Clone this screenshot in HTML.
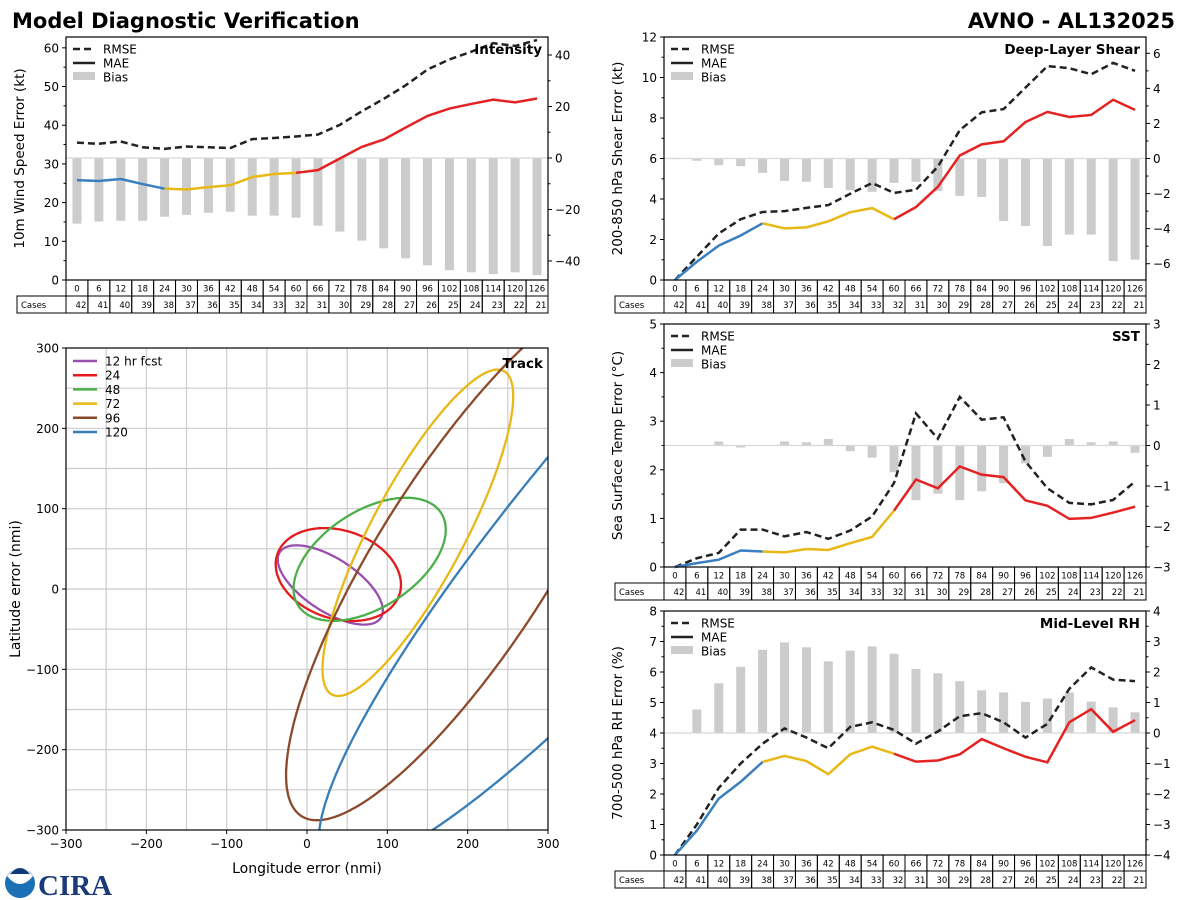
<!DOCTYPE html>
<html><head><meta charset="utf-8"><style>
html,body{margin:0;padding:0;background:#fff;}
svg{display:block;font-family:"DejaVu Sans","Liberation Sans",sans-serif;}
</style></head><body>
<svg id="root" width="1200" height="900" viewBox="0 0 1200 900" xmlns="http://www.w3.org/2000/svg">
<text x="12" y="28" font-size="21" font-weight="bold">Model Diagnostic Verification</text>
<text x="1175" y="28" font-size="21" font-weight="bold" text-anchor="end">AVNO - AL132025</text>
<g>
<circle cx="20" cy="883" r="15" fill="#1a6fb5"/>
<path d="M7,876 Q20,892 33,876 Q28,868 20,868 Q12,868 7,876Z" fill="#fff"/>
<path d="M10,874 Q20,862 30,874Z" fill="#123a7a"/>
<text x="38" y="895" font-family="Liberation Serif,serif" font-weight="bold" font-size="29" fill="#1b3a7a">CIRA</text>
</g>
<g id="charts"></g>
</svg>
<script>
const hours=[0,6,12,18,24,30,36,42,48,54,60,66,72,78,84,90,96,102,108,114,120,126];
const cases=[42,41,40,39,38,37,36,35,34,33,32,31,30,29,28,27,26,25,24,23,22,21];
const intRmse=[35.5,35.2,35.8,34.3,33.9,34.5,34.3,34.1,36.4,36.7,37.1,37.6,40.1,43.6,46.8,50.3,54.4,57.0,59.0,61.2,60.5,62.0];
const intMae=[25.8,25.6,26.1,24.8,23.6,23.4,24.0,24.5,26.6,27.4,27.7,28.4,31.4,34.4,36.3,39.4,42.4,44.3,45.5,46.6,45.9,46.9];
const intBias=[-25.5,-24.7,-24.4,-24.4,-22.8,-22.1,-21.3,-20.9,-22.4,-22.4,-23.2,-26.3,-28.6,-32.1,-35.1,-39.0,-41.7,-43.6,-44.4,-45.1,-44.4,-45.5];
const shrRmse=[0,1.15,2.3,3.0,3.36,3.4,3.56,3.7,4.26,4.79,4.3,4.46,5.6,7.4,8.28,8.44,9.5,10.56,10.46,10.16,10.72,10.33];
const shrMae=[0,0.9,1.7,2.2,2.8,2.55,2.6,2.9,3.35,3.55,3.0,3.6,4.6,6.15,6.7,6.85,7.8,8.3,8.05,8.15,8.9,8.4];
const shrBias=[0,-0.13,-0.38,-0.44,-0.82,-1.28,-1.33,-1.68,-1.81,-1.9,-1.39,-1.33,-1.85,-2.13,-2.19,-3.56,-3.85,-4.99,-4.34,-4.34,-5.85,-5.77];
const sstRmse=[0,0.18,0.29,0.77,0.77,0.63,0.72,0.58,0.75,1.04,1.73,3.16,2.64,3.5,3.03,3.08,2.17,1.62,1.32,1.29,1.38,1.76];
const sstMae=[0,0.08,0.15,0.34,0.32,0.3,0.37,0.35,0.49,0.62,1.16,1.8,1.62,2.07,1.9,1.85,1.37,1.26,0.99,1.01,1.12,1.24];
const sstBias=[0.01,0.01,0.1,-0.05,0.01,0.1,0.08,0.16,-0.14,-0.3,-0.66,-1.35,-1.19,-1.35,-1.13,-0.93,-0.44,-0.28,0.16,0.08,0.1,-0.18];
const rhRmse=[0,1.0,2.2,3.0,3.65,4.15,3.85,3.5,4.2,4.35,4.1,3.65,4.05,4.55,4.65,4.35,3.85,4.3,5.45,6.15,5.75,5.7];
const rhMae=[0,0.8,1.85,2.4,3.05,3.25,3.08,2.65,3.3,3.55,3.32,3.06,3.1,3.3,3.8,3.5,3.22,3.04,4.35,4.78,4.04,4.42];
const rhBias=[0.02,0.77,1.63,2.17,2.73,2.97,2.81,2.35,2.7,2.84,2.6,2.1,1.96,1.7,1.4,1.33,1.02,1.13,1.33,1.03,0.84,0.68];
// track ellipses in nmi: center, semi-major, semi-minor, angle deg
const trkLabels=["12 hr fcst","24","48","72","96","120"];
const trkCx=[29,39,78,138,200,445];
const trkCy=[5,18,37,70,42,142];
const trkA=[75,80,106,228,385,640];
const trkB=[33,55,60,58,108,125];
const trkAng=[-33,-18,33,62,57.5,49];
const trkColors=["#9a4ead","#e41a1c","#4daf4a","#e8b816","#8b4a2b","#377eb8"];

const NS="http://www.w3.org/2000/svg";
const root=document.getElementById('charts');
function mk(tag,attrs,parent){const e=document.createElementNS(NS,tag);for(const k in attrs)e.setAttribute(k,attrs[k]);(parent||root).appendChild(e);return e;}
function txt(x,y,s,size,anchor,parent,extra){const t=mk('text',Object.assign({x:x,y:y,'font-size':size,'text-anchor':anchor||'start'},extra||{}),parent);t.textContent=s;return t;}

function linePanel(id,box,title,ylabel,lMin,lMax,lTicks,lMinor,rMin,rMax,rTicks,rMinor,rmse,mae,bias){
  const g=mk('g',{});
  
  
  const n=hours.length, cw=box.w/n;
  const xs=i=>box.x+cw*(i+0.5);
  const yl=v=>box.y+box.h-(v-lMin)/(lMax-lMin)*box.h;
  const yr=v=>box.y+box.h-(v-rMin)/(rMax-rMin)*box.h;
  const bg=mk('g',{},g);
  
  
  bias.forEach((b,i)=>{const y0=yr(0),y1=yr(b);
    const r=mk('rect',{x:xs(i)-4.5,y:Math.min(y0,y1),width:9,height:Math.max(Math.abs(y1-y0),0.6),fill:'#cccccc'},bg);
    
    });
  const zl=mk('line',{x1:box.x,x2:box.x+box.w,y1:yr(0),y2:yr(0),stroke:'#d8d8d8','stroke-width':1.2},g);
  
  
  const rp=mk('polyline',{points:rmse.map((v,i)=>xs(i)+','+yl(v)).join(' '),fill:'none',stroke:'#222','stroke-width':2.5,'stroke-dasharray':'7,4'},g);
  
  
  const segs=[[0,4,'#3a7fbf'],[4,10,'#e8b816'],[10,n-1,'#e52222']];
  segs.forEach(s=>{const pts=[];for(let i=s[0];i<=s[1];i++)pts.push(xs(i)+','+yl(mae[i]));
    const p=mk('polyline',{points:pts.join(' '),fill:'none',stroke:s[2],'stroke-width':2.5},g);
    
    });
  mk('rect',{x:box.x,y:box.y,width:box.w,height:box.h,fill:'none',stroke:'#000','stroke-width':1.2},g);
  lTicks.forEach(v=>{mk('line',{x1:box.x-4,x2:box.x,y1:yl(v),y2:yl(v),stroke:'#000'},g);txt(box.x-7,yl(v)+4.5,String(v),12,'end',g);});
  lMinor.forEach(v=>mk('line',{x1:box.x-2.5,x2:box.x,y1:yl(v),y2:yl(v),stroke:'#000'},g));
  rTicks.forEach(v=>{mk('line',{x1:box.x+box.w,x2:box.x+box.w+4,y1:yr(v),y2:yr(v),stroke:'#000'},g);txt(box.x+box.w+7,yr(v)+4.5,String(v).replace('-','\u2212'),12,'start',g);});
  rMinor.forEach(v=>mk('line',{x1:box.x+box.w,x2:box.x+box.w+2.5,y1:yr(v),y2:yr(v),stroke:'#000'},g));
  const yt=txt(0,0,ylabel,13.5,'middle',g,{transform:`translate(${box.x-42},${box.y+box.h/2}) rotate(-90)`});
  
  
  const tt=txt(box.x+box.w-6,box.y+17,title,13.5,'end',g,{'font-weight':'bold'});
  
  
  const lg=mk('g',{},g);
  
  
  const lx=box.x+7,ly=box.y+12;
  mk('line',{x1:lx,x2:lx+22,y1:ly,y2:ly,stroke:'#222','stroke-width':2.5,'stroke-dasharray':'7,4'},lg);
  txt(lx+30,ly+4.5,'RMSE',12,'start',lg);
  mk('line',{x1:lx,x2:lx+22,y1:ly+14,y2:ly+14,stroke:'#222','stroke-width':2.5},lg);
  txt(lx+30,ly+18.5,'MAE',12,'start',lg);
  mk('rect',{x:lx,y:ly+23,width:22,height:8,fill:'#cccccc'},lg);
  txt(lx+30,ly+32.5,'Bias',12,'start',lg);
  const tb=mk('g',{},g);
  
  
  const ty=box.y+box.h;
  mk('rect',{x:box.x-49,y:ty+16,width:49,height:17,fill:'none',stroke:'#000'},tb);
  txt(box.x-45,ty+28,'Cases',8.5,'start',tb);
  hours.forEach((h,i)=>{const x0=box.x+cw*i;
    mk('rect',{x:x0,y:ty,width:cw,height:16,fill:'none',stroke:'#000','stroke-width':1},tb);
    mk('rect',{x:x0,y:ty+16,width:cw,height:17,fill:'none',stroke:'#000','stroke-width':1},tb);
    txt(x0+cw/2,ty+11.5,String(h),8.5,'middle',tb);
    txt(x0+cw/2+4,ty+28,String(cases[i]),8.5,'middle',tb);});
}
function rng(a,b,s){const r=[];for(let v=a;v<=b+1e-9;v+=s)r.push(Math.round(v*100)/100);return r;}
linePanel('intensity',{x:66,y:37,w:482,h:243},'Intensity','10m Wind Speed Error (kt)',0,62.8,rng(0,60,10),rng(5,60,10),-47.4,47,[-40,-20,0,20,40],[-30,-10,10,30],intRmse,intMae,intBias);
linePanel('shear',{x:664,y:37,w:482,h:243},'Deep-Layer Shear','200-850 hPa Shear Error (kt)',0,12,rng(0,12,2),rng(1,11,2),-6.93,6.93,[-6,-4,-2,0,2,4,6],[-5,-3,-1,1,3,5],shrRmse,shrMae,shrBias);
linePanel('sst',{x:664,y:324,w:482,h:243},'SST','Sea Surface Temp Error (\u00b0C)',0,5,rng(0,5,1),rng(0.5,4.5,1),-3,3,[-3,-2,-1,0,1,2,3],[-2.5,-1.5,-0.5,0.5,1.5,2.5],sstRmse,sstMae,sstBias);
linePanel('rh',{x:664,y:611,w:482,h:244},'Mid-Level RH','700-500 hPa RH Error (%)',0,8,rng(0,8,1),rng(0.5,7.5,1),-4,4,[-4,-3,-2,-1,0,1,2,3,4],[-3.5,-2.5,-1.5,-0.5,0.5,1.5,2.5,3.5],rhRmse,rhMae,rhBias);

(function(){
  const box={x:66,y:348,w:482,h:482};
  const g=mk('g',{});
  
  
  const xs=v=>box.x+(v+300)/600*box.w, ys=v=>box.y+box.h-(v+300)/600*box.h;
  for(let v=-250;v<300;v+=50){
    mk('line',{x1:xs(v),x2:xs(v),y1:box.y,y2:box.y+box.h,stroke:'#cccccc','stroke-width':1.2},g);
    mk('line',{x1:box.x,x2:box.x+box.w,y1:ys(v),y2:ys(v),stroke:'#cccccc','stroke-width':1.2},g);}
  const defs=mk('defs',{},g);
  const cp=mk('clipPath',{id:'trkclip'},defs);
  mk('rect',{x:box.x,y:box.y,width:box.w,height:box.h},cp);
  const eg=mk('g',{'clip-path':'url(#trkclip)'},g);
  trkCx.forEach((cx,k)=>{
    const th=trkAng[k]*Math.PI/180,pts=[];
    for(let t=0;t<=360;t+=1){const u=t*Math.PI/180;
      const ex=trkA[k]*Math.cos(u),ey=trkB[k]*Math.sin(u);
      const x=cx+ex*Math.cos(th)-ey*Math.sin(th),y=trkCy[k]+ex*Math.sin(th)+ey*Math.cos(th);
      pts.push(xs(x).toFixed(1)+','+ys(y).toFixed(1));}
    const p=mk('polygon',{points:pts.join(' '),fill:'none',stroke:trkColors[k],'stroke-width':2.3},eg);
    
    
  });
  mk('rect',{x:box.x,y:box.y,width:box.w,height:box.h,fill:'none',stroke:'#000','stroke-width':1.2},g);
  [-300,-200,-100,0,100,200,300].forEach(v=>{
    const s=String(v).replace('-','\u2212');
    mk('line',{x1:xs(v),x2:xs(v),y1:box.y+box.h,y2:box.y+box.h+4,stroke:'#000'},g);
    txt(xs(v),box.y+box.h+18,s,12,'middle',g);
    mk('line',{x1:box.x-4,x2:box.x,y1:ys(v),y2:ys(v),stroke:'#000'},g);
    txt(box.x-7,ys(v)+4.5,s,12,'end',g);});
  const xt=txt(box.x+box.w/2,box.y+box.h+43,'Longitude error (nmi)',14,'middle',g);
  
  
  const yt=txt(0,0,'Latitude error (nmi)',14,'middle',g,{transform:`translate(20,${box.y+box.h/2}) rotate(-90)`});
  
  
  const tt=txt(box.x+box.w-5,box.y+20,'Track',13.5,'end',g,{'font-weight':'bold'});
  
  
  const lg=mk('g',{},g);
  
  
  trkLabels.forEach((l,k)=>{const y=box.y+13+k*14.2;
    mk('line',{x1:73,x2:97,y1:y,y2:y,stroke:trkColors[k],'stroke-width':2.5},lg);
    txt(105,y+4.5,l,12,'start',lg);});
})();
</script>
</body></html>
